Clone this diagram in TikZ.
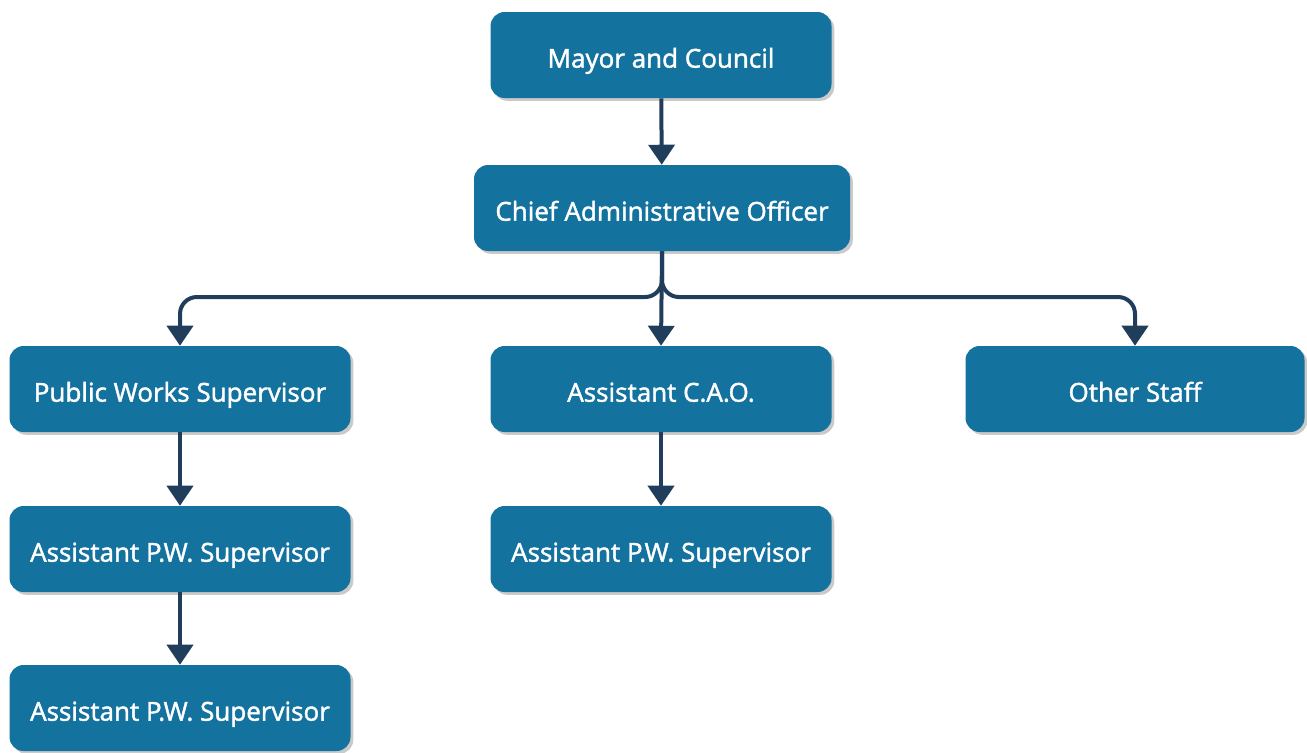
\documentclass[tikz,border=0pt]{standalone}
\usepackage{fontspec}
\setmainfont{Open Sans}
\newfontfamily\orgfont{Open Sans}[FakeBold=1.6]
\usepackage{tikz}
\usetikzlibrary{arrows.meta,positioning,shadows,calc}
\definecolor{boxblue}{RGB}{20,114,158}
\definecolor{linenavy}{RGB}{32,62,92}

\begin{document}
\begin{tikzpicture}[x=0.025cm,y=-0.025cm,
  orgbox/.style={fill=boxblue,text=white,rounded corners=10,minimum height=86*0.025cm,
    inner sep=0pt,text height=18pt,text depth=0pt,font=\orgfont\fontsize{18.5}{20}\selectfont,
    drop shadow={shadow xshift=2pt,shadow yshift=-2pt,fill=black!35,opacity=0.6}},
  conn/.style={draw=linenavy,line width=4*0.025cm,-{Triangle[width=26*0.025cm,length=20*0.025cm]}}]
\useasboundingbox (0,0) rectangle (1307,752);
\node[orgbox,minimum width=341*0.025cm] (mayor) at (661,55) {Mayor and Council};
\node[orgbox,minimum width=376*0.025cm] (cao) at (662,208) {Chief Administrative Officer};
\node[orgbox,minimum width=341*0.025cm] (pws) at (180,389) {Public Works Supervisor};
\node[orgbox,minimum width=341*0.025cm] (acao) at (661,389) {Assistant C.A.O.};
\node[orgbox,minimum width=339*0.025cm] (other) at (1135,389) {Other Staff};
\node[orgbox,minimum width=341*0.025cm] (apw1) at (180,549) {Assistant P.W. Supervisor};
\node[orgbox,minimum width=341*0.025cm] (apw2) at (661,549) {Assistant P.W. Supervisor};
\node[orgbox,minimum width=341*0.025cm] (apw3) at (180,708) {Assistant P.W. Supervisor};
\coordinate (bus) at (662,297);
% connectors
\draw[conn] (mayor) -- (cao);
\draw[conn,rounded corners=12] (cao.south) -- (bus) -| (pws.north);
\draw[conn] (cao.south) -- (acao.north);
\draw[conn,rounded corners=12] (cao.south) -- (bus) -| (other.north);
\draw[conn] (pws) -- (apw1);
\draw[conn] (apw1) -- (apw3);
\draw[conn] (acao) -- (apw2);
\end{tikzpicture}
\end{document}
